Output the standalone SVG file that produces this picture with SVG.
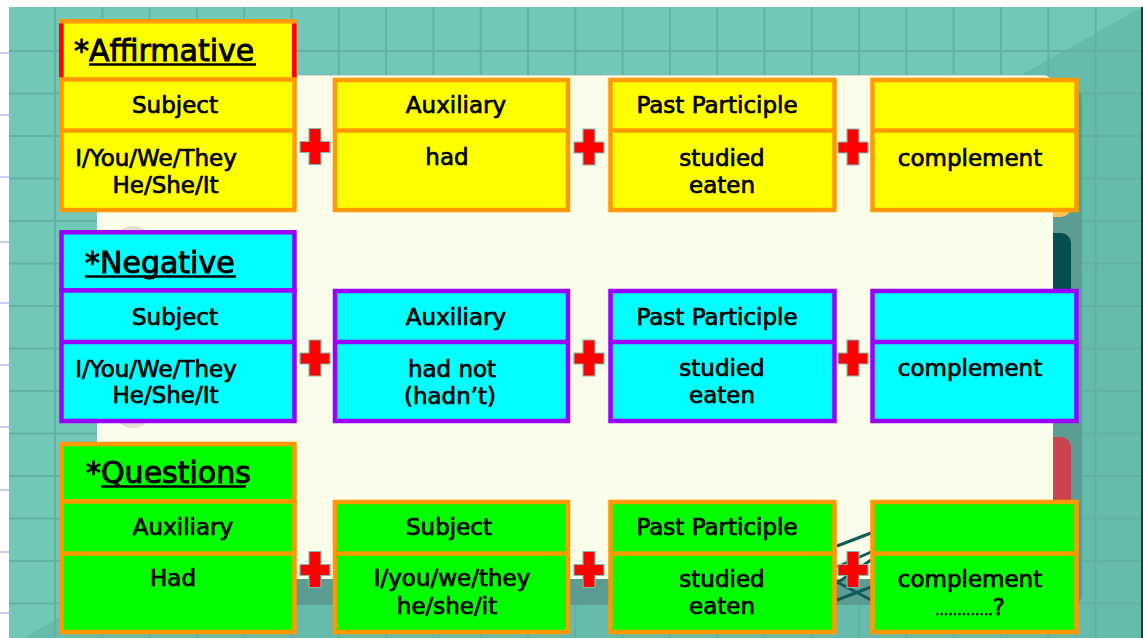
<svg xmlns="http://www.w3.org/2000/svg" width="1143" height="638" viewBox="0 0 1143 638">
<style>
.y{fill:#ffff00;stroke:#ff9900;stroke-width:4.5}
.c{fill:#00ffff;stroke:#9900ff;stroke-width:4.5}
.g{fill:#00ff00;stroke:#ff9900;stroke-width:4.5}
.so{stroke:#ff9900;stroke-width:4.5}
.sp{stroke:#9900ff;stroke-width:4.5}
.t{font-family:"DejaVu Sans","Liberation Sans",sans-serif;font-size:23px;fill:#000;stroke:#000;stroke-width:0.7;text-anchor:middle}
.h{font-family:"DejaVu Sans","Liberation Sans",sans-serif;font-size:30px;fill:#000;stroke:#000;stroke-width:0.9}
.ul{stroke:#000;stroke-width:2.5}
.grid{stroke:#62b2a2;stroke-width:2}
.stick{stroke:#0f5b58;stroke-width:3}
.dash{stroke:#c5cff5;stroke-width:2}
</style>
<defs>
<path id="plus" d="M-6,-18 H6 V-5 H15 V6 H6 V18 H-6 V6 H-15 V-5 H-6 Z" fill="#ff0000" stroke="#7dbdb3" stroke-width="1.2"/>
</defs>
<g id="background">
<rect x="0" y="0" width="1143" height="638" fill="#ffffff"/>
<g class="dash">
<line x1="0" y1="53" x2="9" y2="53"/><line x1="0" y1="115" x2="9" y2="115"/><line x1="0" y1="177" x2="9" y2="177"/><line x1="0" y1="242" x2="9" y2="242"/><line x1="0" y1="303" x2="9" y2="303"/><line x1="0" y1="365" x2="9" y2="365"/><line x1="0" y1="427" x2="9" y2="427"/><line x1="0" y1="490" x2="9" y2="490"/><line x1="0" y1="552" x2="9" y2="552"/><line x1="0" y1="613" x2="9" y2="613"/>
</g>
<rect x="9" y="7" width="1134" height="631" fill="#72c8b8"/>
<polygon points="9,646 1142,7 1142,638 9,638" fill="#66bcac"/>
<g class="grid">
<line x1="55" y1="7" x2="55" y2="638"/><line x1="102.3" y1="7" x2="102.3" y2="638"/><line x1="149.6" y1="7" x2="149.6" y2="638"/><line x1="196.9" y1="7" x2="196.9" y2="638"/><line x1="244.2" y1="7" x2="244.2" y2="638"/><line x1="291.5" y1="7" x2="291.5" y2="638"/><line x1="338.8" y1="7" x2="338.8" y2="638"/><line x1="386.1" y1="7" x2="386.1" y2="638"/><line x1="433.4" y1="7" x2="433.4" y2="638"/><line x1="480.7" y1="7" x2="480.7" y2="638"/><line x1="528" y1="7" x2="528" y2="638"/><line x1="575.3" y1="7" x2="575.3" y2="638"/><line x1="622.6" y1="7" x2="622.6" y2="638"/><line x1="669.9" y1="7" x2="669.9" y2="638"/><line x1="717.2" y1="7" x2="717.2" y2="638"/><line x1="764.5" y1="7" x2="764.5" y2="638"/><line x1="811.8" y1="7" x2="811.8" y2="638"/><line x1="859.1" y1="7" x2="859.1" y2="638"/><line x1="906.4" y1="7" x2="906.4" y2="638"/><line x1="953.7" y1="7" x2="953.7" y2="638"/><line x1="1001" y1="7" x2="1001" y2="638"/><line x1="1048.3" y1="7" x2="1048.3" y2="638"/><line x1="1095.6" y1="7" x2="1095.6" y2="638"/>
<line x1="9" y1="51" x2="1142" y2="51"/><line x1="9" y1="93.5" x2="1142" y2="93.5"/><line x1="9" y1="136" x2="1142" y2="136"/><line x1="9" y1="178.5" x2="1142" y2="178.5"/><line x1="9" y1="221" x2="1142" y2="221"/><line x1="9" y1="263.5" x2="1142" y2="263.5"/><line x1="9" y1="306" x2="1142" y2="306"/><line x1="9" y1="348.5" x2="1142" y2="348.5"/><line x1="9" y1="391" x2="1142" y2="391"/><line x1="9" y1="433.5" x2="1142" y2="433.5"/><line x1="9" y1="476" x2="1142" y2="476"/><line x1="9" y1="518.5" x2="1142" y2="518.5"/><line x1="9" y1="561" x2="1142" y2="561"/><line x1="9" y1="603.5" x2="1142" y2="603.5"/>
</g>
<rect x="1141" y="7" width="2" height="631" fill="#1e3a39"/>
<rect x="105" y="88" width="977" height="517" rx="10" fill="#5b9c93"/>
<rect x="1040" y="150" width="31" height="67" rx="10" fill="#fbc25c"/>
<path d="M1040,233 H1061 A10,10 0 0 1 1071,243 V300 H1040 Z" fill="#03514e"/>
<path d="M1040,437 H1061 A10,10 0 0 1 1071,447 V510 H1040 Z" fill="#c9444f"/>
<path d="M97,75 H1043 A10,10 0 0 1 1053,85 V579 H97 Z" fill="#fafde9"/>
<line x1="97" y1="75.5" x2="1043" y2="75.5" stroke="#d9dccb" stroke-width="1"/>
<circle cx="133" cy="246" r="20" fill="#e3e0d3"/>
<circle cx="133" cy="408" r="20" fill="#e3e0d3"/>
<g class="stick">
<line x1="837" y1="546" x2="871" y2="533"/>
<line x1="837" y1="567" x2="871" y2="552"/>
<line x1="837" y1="583" x2="871" y2="560"/>
<line x1="837" y1="600" x2="871" y2="587"/>
<line x1="837" y1="582" x2="871" y2="600"/>
</g>
</g>

<g id="aff-title">
<rect class="y" x="61.5" y="21.3" width="233" height="58.2"/>
<line x1="61.3" y1="23.5" x2="61.3" y2="77.5" stroke="#ff0000" stroke-width="4.5"/>
<line x1="294.3" y1="23.5" x2="294.3" y2="77.5" stroke="#ff0000" stroke-width="4.5"/>
<text class="h" x="74" y="61">*Affirmative</text>
<line class="ul" x1="89" y1="64.5" x2="256" y2="64.5"/>
</g>
<g id="aff-subject">
<rect class="y" x="61.5" y="79.5" width="233" height="130.5"/>
<line class="so" x1="61.5" y1="130.5" x2="294.5" y2="130.5"/>
<text class="t" x="175" y="113">Subject</text>
<text class="t" x="156" y="166">I/You/We/They</text>
<text class="t" x="165.5" y="193">He/She/It</text>
</g>
<g id="aff-aux">
<rect class="y" x="335" y="80" width="233" height="130"/>
<line class="so" x1="335" y1="130.5" x2="568" y2="130.5"/>
<text class="t" x="456" y="113">Auxiliary</text>
<text class="t" x="447" y="165">had</text>
</g>
<g id="aff-pp">
<rect class="y" x="610.5" y="80" width="224" height="130"/>
<line class="so" x1="610.5" y1="130.5" x2="834.5" y2="130.5"/>
<text class="t" x="717" y="113">Past Participle</text>
<text class="t" x="722" y="166">studied</text>
<text class="t" x="722" y="193">eaten</text>
</g>
<g id="aff-comp">
<rect class="y" x="872.5" y="80" width="204" height="130"/>
<line class="so" x1="872.5" y1="130.5" x2="1076.5" y2="130.5"/>
<text class="t" x="970" y="166">complement</text>
</g>

<g id="neg-title">
<rect class="c" x="61.5" y="232.3" width="233" height="58.2"/>
<text class="h" x="85" y="273">*Negative</text>
<line class="ul" x1="85" y1="276.5" x2="236" y2="276.5"/>
</g>
<g id="neg-subject">
<rect class="c" x="61.5" y="290.5" width="233" height="130.5"/>
<line class="sp" x1="61.5" y1="342" x2="294.5" y2="342"/>
<text class="t" x="175" y="325">Subject</text>
<text class="t" x="156" y="377">I/You/We/They</text>
<text class="t" x="165.5" y="403">He/She/It</text>
</g>
<g id="neg-aux">
<rect class="c" x="335" y="291" width="233" height="130"/>
<line class="sp" x1="335" y1="342" x2="568" y2="342"/>
<text class="t" x="456" y="325">Auxiliary</text>
<text class="t" x="452" y="377">had not</text>
<text class="t" x="450" y="404">(hadn’t)</text>
</g>
<g id="neg-pp">
<rect class="c" x="610.5" y="291" width="224" height="130"/>
<line class="sp" x1="610.5" y1="342" x2="834.5" y2="342"/>
<text class="t" x="717" y="325">Past Participle</text>
<text class="t" x="722" y="376">studied</text>
<text class="t" x="722" y="403">eaten</text>
</g>
<g id="neg-comp">
<rect class="c" x="872.5" y="291" width="204" height="130"/>
<line class="sp" x1="872.5" y1="342" x2="1076.5" y2="342"/>
<text class="t" x="970" y="376">complement</text>
</g>

<g id="q-title">
<rect class="g" x="61.5" y="444" width="233" height="57.5"/>
<text class="h" x="86" y="483">*Questions</text>
<line class="ul" x1="101" y1="486.5" x2="246" y2="486.5"/>
</g>
<g id="q-aux">
<rect class="g" x="61.5" y="501.5" width="233" height="130.5"/>
<line class="so" x1="61.5" y1="553.5" x2="294.5" y2="553.5"/>
<text class="t" x="183" y="535">Auxiliary</text>
<text class="t" x="173" y="586">Had</text>
</g>
<g id="q-subject">
<rect class="g" x="335" y="502" width="233" height="130"/>
<line class="so" x1="335" y1="553.5" x2="568" y2="553.5"/>
<text class="t" x="449" y="535">Subject</text>
<text class="t" x="452" y="586">I/you/we/they</text>
<text class="t" x="447" y="614">he/she/it</text>
</g>
<g id="q-pp">
<rect class="g" x="610.5" y="502" width="224" height="130"/>
<line class="so" x1="610.5" y1="553.5" x2="834.5" y2="553.5"/>
<text class="t" x="717" y="535">Past Participle</text>
<text class="t" x="722" y="587">studied</text>
<text class="t" x="722" y="614">eaten</text>
</g>
<g id="q-comp">
<rect class="g" x="872.5" y="502" width="204" height="130"/>
<line class="so" x1="872.5" y1="553.5" x2="1076.5" y2="553.5"/>
<text class="t" x="970" y="587">complement</text>
<text class="t" x="970" y="615"><tspan font-size="14">.............</tspan><tspan>?</tspan></text>
</g>

<g id="connectors">
<use href="#plus" x="315" y="146.5"/>
<use href="#plus" x="589" y="147"/>
<use href="#plus" x="853" y="147"/>
<use href="#plus" x="315" y="358"/>
<use href="#plus" x="589" y="358"/>
<use href="#plus" x="853" y="358"/>
<use href="#plus" x="315" y="569.5"/>
<use href="#plus" x="589" y="569.5"/>
<use href="#plus" x="853" y="569.5"/>
</g>
</svg>
